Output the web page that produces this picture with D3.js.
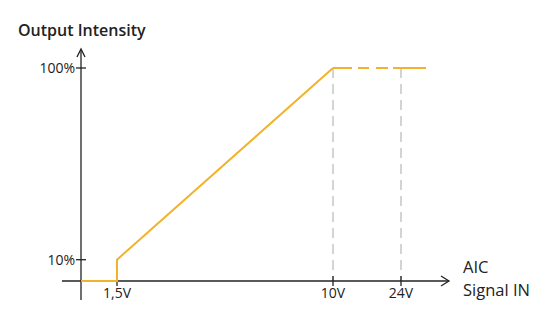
<!DOCTYPE html>
<html>
<head>
<meta charset="utf-8">
<script src="https://cdn.jsdelivr.net/npm/d3@7"></script>
<style>
  body { margin: 0; background: #fff; }
  text { font-family: "Open Sans", "Noto Sans", sans-serif; fill: #222; }
</style>
</head>
<body>
<div class="chart"></div>
<script>
var svgWidth = 544;
var svgHeight = 316;

// data
var curveVolts = [0, 1.5, 1.5, 10];
var curveLevels = [0, 0, 10, 100];
var plateauVolts = [10, 29];
var plateauLevel = 100;
var xTickValues = [1.5, 10, 24];
var xTickLabels = ["1,5V", "10V", "24V"];
var yTickValues = [10, 100];
var yTickLabels = ["10%", "100%"];
var guideVolts = [10, 24];

var svg = d3.select(".chart")
  .append("svg")
  .attr("width", svgWidth)
  .attr("height", svgHeight);

// piecewise x scale (10V..24V is compressed in the picture)
var x = d3.scaleLinear()
  .domain([0, 1.5, 10, 24, 29])
  .range([81, 117, 333, 401, 426]);

var y = d3.scaleLinear()
  .domain([0, 100])
  .range([281, 68]);

var orange = "#f2b32a";

// gray guide lines
svg.selectAll(".guide")
  .data(guideVolts)
  .enter()
  .append("line")
  .attr("x1", d => x(d))
  .attr("x2", d => x(d))
  .attr("y1", y(100))
  .attr("y2", y(0))
  .attr("stroke", "#b8b8b8")
  .attr("stroke-width", 1.2)
  .attr("stroke-dasharray", "10,6");

// axes
svg.append("line")
  .attr("x1", 62).attr("x2", 448)
  .attr("y1", y(0)).attr("y2", y(0))
  .attr("stroke", "#222").attr("stroke-width", 1.3);
svg.append("path")
  .attr("d", `M441,${y(0) - 5} L449,${y(0)} L441,${y(0) + 5}`)
  .attr("fill", "none").attr("stroke", "#222").attr("stroke-width", 1.3);

svg.append("line")
  .attr("x1", x(0)).attr("x2", x(0))
  .attr("y1", 300).attr("y2", 50)
  .attr("stroke", "#222").attr("stroke-width", 1.3);
svg.append("path")
  .attr("d", `M${x(0) - 4},${57} L${x(0)},${49} L${x(0) + 4},${57}`)
  .attr("fill", "none").attr("stroke", "#222").attr("stroke-width", 1.3);

// y ticks
svg.selectAll(".ytick")
  .data(yTickValues)
  .enter()
  .append("line")
  .attr("x1", x(0) - 5).attr("x2", x(0) + 5)
  .attr("y1", d => y(d)).attr("y2", d => y(d))
  .attr("stroke", "#222").attr("stroke-width", 1.3);

svg.selectAll(".ylabel")
  .data(yTickValues)
  .enter()
  .append("text")
  .attr("x", x(0) - 6)
  .attr("y", d => y(d) + 5)
  .attr("text-anchor", "end")
  .attr("font-size", "14px")
  .text((d, i) => yTickLabels[i]);

// x ticks
svg.selectAll(".xtick")
  .data(xTickValues)
  .enter()
  .append("line")
  .attr("x1", d => x(d)).attr("x2", d => x(d))
  .attr("y1", y(0) - 5).attr("y2", y(0) + 5)
  .attr("stroke", "#222").attr("stroke-width", 1.3);

svg.selectAll(".xlabel")
  .data(xTickValues)
  .enter()
  .append("text")
  .attr("x", d => x(d))
  .attr("y", 298)
  .attr("text-anchor", "middle")
  .attr("font-size", "14px")
  .text((d, i) => xTickLabels[i]);

// response curve
var line = d3.line()
  .x(d => x(d[0]))
  .y(d => y(d[1]));

svg.append("path")
  .datum(curveVolts.map((v, i) => [v, curveLevels[i]]))
  .attr("d", line)
  .attr("fill", "none")
  .attr("stroke", orange)
  .attr("stroke-width", 2);

svg.append("path")
  .datum(plateauVolts.map(v => [v, plateauLevel]))
  .attr("d", line)
  .attr("fill", "none")
  .attr("stroke", orange)
  .attr("stroke-width", 2)
  .attr("stroke-dasharray", "19,6,11,7,12,5,40");

// titles
svg.append("text")
  .attr("x", 18).attr("y", 36)
  .attr("font-size", "16px")
  .attr("font-weight", 600)
  .text("Output Intensity");

svg.append("text")
  .attr("x", 463).attr("y", 273)
  .attr("font-size", "16.5px")
  .attr("font-weight", 500)
  .text("AIC");

svg.append("text")
  .attr("x", 463).attr("y", 296)
  .attr("font-size", "16.5px")
  .attr("font-weight", 500)
  .text("Signal IN");
</script>
</body>
</html>
